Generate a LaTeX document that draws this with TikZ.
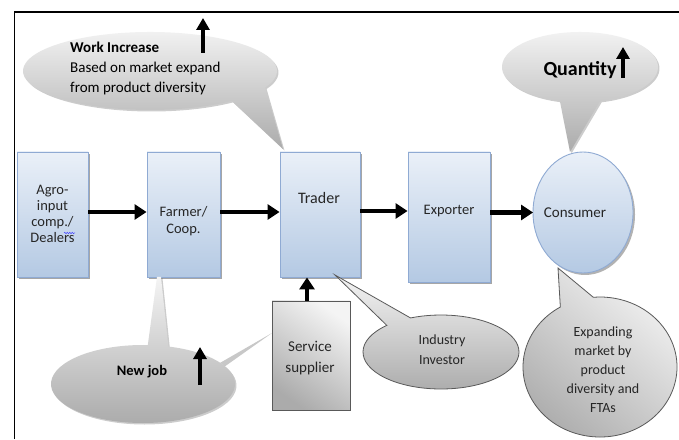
\documentclass[tikz,border=0pt]{standalone}
\usepackage{fontspec}
\setmainfont{Carlito}
\usetikzlibrary{arrows.meta,shadows,decorations.pathmorphing,shapes.geometric}
\definecolor{boxtop}{HTML}{EAF0F8}
\definecolor{boxbot}{HTML}{B4C9E3}
\definecolor{boxline}{HTML}{8FAAD3}
\definecolor{txt}{HTML}{262626}
\definecolor{calline}{HTML}{595959}
\definecolor{callight}{HTML}{F4F4F4}
\definecolor{caldark}{HTML}{ABABAB}
\definecolor{wedge}{HTML}{C8C8C8}
\begin{document}
\begin{tikzpicture}[x=1pt,y=1pt,
  bluebox/.style={draw=boxline, line width=0.9pt, top color=boxtop, bottom color=boxbot,
    drop shadow={shadow xshift=2pt,shadow yshift=-2pt,opacity=0.35,fill=black}, inner sep=0pt},
  blueoval/.style={ellipse, draw=boxline, line width=0.9pt, top color=boxtop, bottom color=boxbot,
    drop shadow={shadow xshift=2pt,shadow yshift=-2pt,opacity=0.3,fill=black}, inner sep=0pt},
  graybox/.style={draw=calline, line width=0.8pt, top color=callight, bottom color=caldark, shading angle=-35, inner sep=0pt},
  softcallout/.style={top color=callight, bottom color=caldark,
    drop shadow={shadow xshift=1.5pt,shadow yshift=-1.5pt,opacity=0.2,fill=black}},
  linecallout/.style={draw=calline, line width=0.8pt, top color=callight, bottom color=caldark},
  flow/.style={line width=4.5pt, -{Triangle[length=12pt,width=15pt]}},
  uparrow/.style={line width=3.8pt, -{Triangle[length=12pt,width=13pt]}},
  lbl/.style={text=txt, align=center, inner sep=0pt},
]
\useasboundingbox (0,0) rectangle (679,439);
\fill[white] (0,0) rectangle (679,439);
\draw[line width=1.8pt] (14.5,0) -- (14.5,427) -- (679,427);

% boxes
\node[bluebox, minimum width=71pt, minimum height=125pt] (b1) at (52.5,224.5) {};
\node[bluebox, minimum width=73pt, minimum height=125pt] (b2) at (183.5,224.5) {};
\node[bluebox, minimum width=80pt, minimum height=125pt] (b3) at (320,224.5) {};
\node[bluebox, minimum width=82pt, minimum height=130pt] (b4) at (449,222) {};
\node[blueoval, minimum width=100pt, minimum height=121pt] (cons) at (583,226.5) {};
\node[graybox, minimum width=78pt, minimum height=109pt] (sv) at (311,83.5) {};

% box texts
\node[lbl, font=\fontsize{14.5}{16}\selectfont] (t1) at (52.5,225) {Agro-\\input\\comp./\\Dealers};
\node[lbl, font=\fontsize{14.5}{17}\selectfont] (t2) at (183.5,217.5) {Farmer/\\Coop.};
\node[lbl, font=\fontsize{16}{19}\selectfont] (t3) at (319,241) {Trader};
\node[lbl, font=\fontsize{14.5}{17}\selectfont] (t4) at (449,228) {Exporter};
\node[lbl, font=\fontsize{15}{18}\selectfont] (t5) at (575,226) {Consumer};
\node[lbl, font=\fontsize{15}{21}\selectfont] (t6) at (310,80.5) {Service\\supplier};
\draw[blue!70, line width=0.5pt, decorate, decoration={snake, amplitude=0.8pt, segment length=2.5pt}] (64,206) -- (75,206);

% flow arrows
\draw[flow] ([yshift=2.5pt]b1.east) -- ([yshift=2.5pt]b2.west);
\draw[flow] ([yshift=2.5pt]b2.east) -- ([yshift=2.5pt]b3.west);
\draw[flow] ([yshift=3.5pt]b3.east) -- ([yshift=6pt]b4.west);
\draw[flow] ([xshift=-4pt]sv.north) -- ([xshift=-4pt]sv.north |- b3.south);

% callout: Work Increase
\coordinate (tipA) at (283,290);
\path[softcallout] (150,368) ++(-25:127 and 39) arc[start angle=-25, end angle=310, x radius=127, y radius=39] -- (tipA) -- cycle;
\node[text=black, align=left, anchor=west, inner sep=0pt, font=\fontsize{15}{20}\selectfont] (wtxt) at (70,371)
  {\textbf{Work Increase}\\Based on market expand\\from product diversity};
\coordinate (wa1) at (203,386); \coordinate (wa2) at (203,421);
\draw[uparrow] (wa1) -- (wa2);

% callout: Quantity
\coordinate (tipB) at (570,287);
\path[softcallout] (580,372) ++(-75:78 and 35) arc[start angle=-75, end angle=255, x radius=78, y radius=35] -- (tipB) -- cycle;
\node[inner sep=0pt, font=\fontsize{20}{24}\selectfont\bfseries] (qtxt) at (580,369) {Quantity};
\coordinate (qa1) at (623,361); \coordinate (qa2) at (623,392);
\draw[uparrow] (qa1) -- (qa2);

% callout: New job
\coordinate (nw1) at (225,72.7); \coordinate (nw2) at (220.2,76.2); \coordinate (nwtip) at (272,106);
\fill[wedge] (nw1) -- (nwtip) -- (nw2) -- cycle;
\coordinate (tipC1) at (161,162); \coordinate (tipC2) at (157,162);
\path[softcallout] (143,55) ++(87:92 and 39) arc[start angle=87, end angle=434, x radius=92, y radius=39] -- (tipC1) -- (tipC2) -- cycle;
\node[inner sep=0pt, font=\fontsize{14.5}{17}\selectfont\bfseries] (ntxt) at (142,67) {New job};
\coordinate (na1) at (200,54); \coordinate (na2) at (200,92);
\draw[uparrow] (na1) -- (na2);

% callout: Industry Investor
\coordinate (tipD) at (335,164);
\path[linecallout] (441,87) ++(134:78 and 37) arc[start angle=134, end angle=473, x radius=78, y radius=37] -- (tipD) -- cycle;
\node[lbl, font=\fontsize{14}{20}\selectfont] (itxt) at (442,89) {Industry\\Investor};

% callout: Expanding market
\coordinate (tipE) at (558,171);
\path[linecallout, shading angle=-40] (600,72) ++(121:77 and 70) arc[start angle=121, end angle=455, x radius=77, y radius=70] -- (tipE) -- cycle;
\node[lbl, font=\fontsize{14}{19}\selectfont] (etxt) at (603,69) {Expanding\\market by\\product\\diversity and\\FTAs};

% exporter to consumer, drawn last
\coordinate (consw) at (533,226.5);
\draw[flow] (b4.east |- consw) -- (consw);
\end{tikzpicture}
\end{document}
